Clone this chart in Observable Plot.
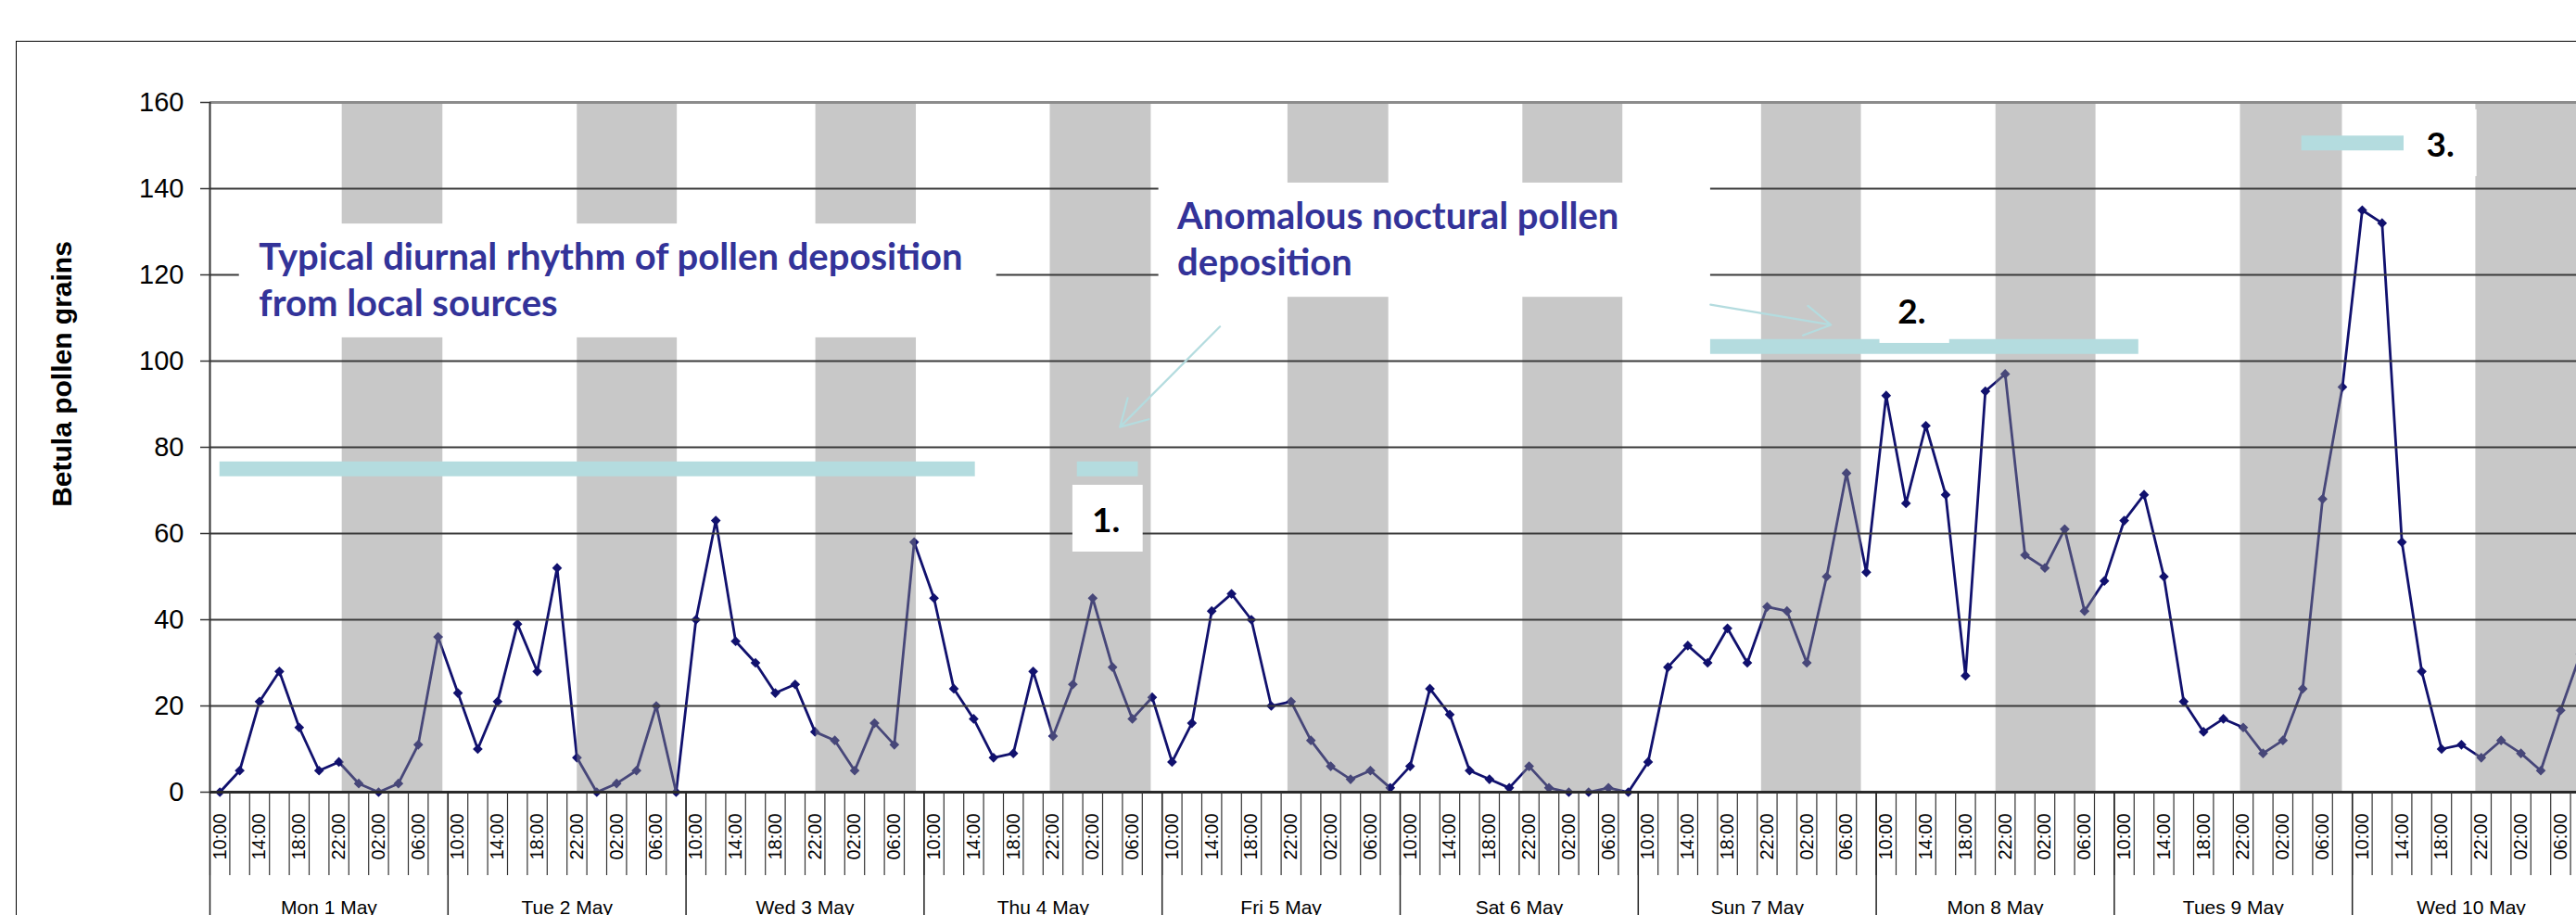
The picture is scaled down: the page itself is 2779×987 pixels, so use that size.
<!DOCTYPE html>
<html><head><meta charset="utf-8">
<script src="https://cdn.jsdelivr.net/npm/d3@7"></script>
<script src="https://cdn.jsdelivr.net/npm/@observablehq/plot@0.6"></script>
<style>
html,body{margin:0;padding:0;background:#fff;overflow:hidden;width:2779px;height:987px;}
#chart{position:absolute;left:0;top:0;width:2814px;}
#chart svg{max-width:none !important;}
#frame{position:absolute;left:17px;top:44px;width:3000px;height:1200px;border-left:1.5px solid #000;border-top:1.5px solid #000;pointer-events:none;}
</style></head><body>
<div id="chart"></div><div id="frame"></div>
<script>
// ---------- data ----------
const dayLabels = ["Mon 1 May","Tue 2 May","Wed 3 May","Thu 4 May","Fri 5 May","Sat 6 May","Sun 7 May","Mon 8 May","Tues 9 May","Wed 10 May"];
const slotTimes = ["10:00","12:00","14:00","16:00","18:00","20:00","22:00","00:00","02:00","04:00","06:00","08:00"];
const labelledTimes = ["10:00","14:00","18:00","22:00","02:00","06:00"];
const pollen = [
  0,5,21,28,15,5,7,2,0,2,11,36,
  23,10,21,39,28,52,8,0,2,5,20,0,
  40,63,35,30,23,25,14,12,5,16,11,58,
  45,24,17,8,9,28,13,25,45,29,17,22,
  7,16,42,46,40,20,21,12,6,3,5,1,
  6,24,18,5,3,1,6,1,0,0,1,0,
  7,29,34,30,38,30,43,42,30,50,74,51,
  92,67,85,69,27,93,97,55,52,61,42,49,
  63,69,50,21,14,17,15,9,12,24,68,94,
  135,132,58,28,10,11,8,12,9,5,19,32
];
const yTicks = [0,20,40,60,80,100,120,140,160];
// night shading (start / end)
const nightStart = ["2006-05-01T22:20","2006-05-02T22:02","2006-05-03T22:05","2006-05-04T21:43","2006-05-05T21:41","2006-05-06T21:22","2006-05-07T21:26","2006-05-08T21:04","2006-05-09T21:43","2006-05-10T21:27"];
const nightEnd   = ["2006-05-02T08:29","2006-05-03T08:07","2006-05-04T08:13","2006-05-05T07:54","2006-05-06T07:51","2006-05-07T07:27","2006-05-08T07:30","2006-05-09T07:09","2006-05-10T08:00","2006-05-11T07:36"];
// highlighted periods (teal bars)
const periodStart = ["2006-05-01T10:00","2006-05-05T00:27","2006-05-07T16:18","2006-05-10T03:54"];
const periodEnd   = ["2006-05-04T14:10","2006-05-05T06:36","2006-05-09T11:28","2006-05-10T14:13"];
const periodLevel = [75,75,103.4,150.6];
// annotation boxes
const boxStart = ["2006-05-01T11:58","2006-05-05T08:40","2006-05-05T00:00","2006-05-08T09:22","2006-05-10T14:50"];
const boxEnd   = ["2006-05-04T16:19","2006-05-07T16:18","2006-05-05T07:05","2006-05-08T16:24","2006-05-10T21:34"];
const boxLow   = [105.4,114.8,55.7,104.1,142.8];
const boxHigh  = [131.8,141.3,71.2,118,158.3];
// annotation texts
const noteText  = ["Typical diurnal rhythm of pollen deposition\nfrom local sources","Anomalous noctural pollen\ndeposition"];
const noteTime  = ["2006-05-01T13:56","2006-05-05T10:32"];
const noteLevel = [110.4,119.85];
const markText  = ["1.","2.","3."];
const markTime  = ["2006-05-05T01:56","2006-05-08T11:10","2006-05-10T16:28"];
const markLevel = [60.4,108.8,147.5];
// arrows
const arrowFrom = ["2006-05-05T14:50","2006-05-07T16:17"];
const arrowFromLevel = [108.0,113.1];
const arrowTo = ["2006-05-05T04:45","2006-05-08T04:26"];
const arrowToLevel = [84.7,108.4];

// ---------- build ----------
const T = s => new Date(s + ":00Z");
const H = 3600e3;
const t0 = Date.UTC(2006,4,1,10);
const series = pollen.map((v,i) => ({t: new Date(t0 + i*2*H), v, slot: slotTimes[i % 12]}));
const nights = nightStart.map((s,i) => ({start: T(s), end: T(nightEnd[i])}));
const periods = periodStart.map((s,i) => ({start: T(s), end: T(periodEnd[i]), level: periodLevel[i]}));
const boxes = boxStart.map((s,i) => ({start: T(s), end: T(boxEnd[i]), low: boxLow[i], high: boxHigh[i]}));
const notes = noteText.map((s,i) => ({text: s, t: T(noteTime[i]), v: noteLevel[i]}));
const marksN = markText.map((s,i) => ({text: s, t: T(markTime[i]), v: markLevel[i]}));
const arrows = arrowFrom.map((s,i) => ({t1: T(s), v1: arrowFromLevel[i], t2: T(arrowTo[i]), v2: arrowToLevel[i]}));

const xStart = new Date(Date.UTC(2006,4,1,9));
const xEnd = new Date(Date.UTC(2006,4,11,9));
const catBounds = d3.range(0, series.length + 1).map(k => new Date(xStart.getTime() + k*2*H));
const dayBounds = d3.range(0, dayLabels.length + 1).map(d => new Date(xStart.getTime() + d*24*H));
const dayMids = dayLabels.map((_, d) => new Date(xStart.getTime() + (d*24 + 12)*H));
const timeLabels = series.filter(d => labelledTimes.includes(d.slot));

const navy = "#11116e", teal = "#b4dcdf", annBlue = "#333399";
const annFont = "Lato, 'Open Sans', sans-serif";

const svg = Plot.plot({
  width: 2814, height: 987,
  marginLeft: 226, marginRight: 20, marginTop: 110, marginBottom: 133,
  x: {type: "utc", domain: [xStart, xEnd]},
  y: {domain: [0, 160]},
  style: {background: "#fff", color: "#000", fontFamily: "'Liberation Sans', Arial, sans-serif", overflow: "visible", maxWidth: "none"},
  marks: [
    Plot.line(series, {x: "t", y: "v", stroke: navy, strokeWidth: 2.8}),
    Plot.dot(series, {x: "t", y: "v", symbol: "diamond2", r: 4.8, fill: navy, stroke: null}),
    Plot.rect(nights, {x1: "start", x2: "end", y1: 0, y2: 160, fill: "#888", fillOpacity: 0.46}),
    Plot.ruleY(yTicks.filter(v => v > 0 && v < 160), {stroke: "#3a3a3a", strokeWidth: 2}),
    Plot.ruleY([0], {stroke: "#2a2a2a", strokeWidth: 3}),
    Plot.ruleY([160], {stroke: "#8c8c8c", strokeWidth: 3}),
    Plot.ruleX([xStart], {y1: 0, y2: 160, stroke: "#333", strokeWidth: 2}),
    Plot.ruleY(periods, {x1: "start", x2: "end", y: "level", stroke: teal, strokeWidth: 16}),
    Plot.rect(boxes, {x1: "start", x2: "end", y1: "low", y2: "high", fill: "#fff"}),
    Plot.text(notes, {x: "t", y: "v", text: "text", textAnchor: "start", lineAnchor: "bottom", lineHeight: 1.25,
      fontSize: 40, fontWeight: "bold", fontFamily: annFont, fill: annBlue}),
    Plot.text(marksN, {x: "t", y: "v", text: "text", textAnchor: "start", lineAnchor: "bottom",
      fontSize: 37, fontWeight: "bold", fontFamily: annFont, fill: "#000"}),
    Plot.arrow(arrows, {x1: "t1", y1: "v1", x2: "t2", y2: "v2", stroke: teal, strokeWidth: 2.2, headLength: 22}),
    Plot.axisY({ticks: yTicks, tickSize: 10, tickPadding: 18, fontSize: 29, label: null, stroke: "#333", strokeWidth: 1.5}),
    Plot.axisX({ticks: catBounds, tickSize: 90, tickFormat: () => "", label: null, stroke: "#333", strokeWidth: 1.2}),
    Plot.axisX({ticks: dayBounds, tickSize: 140, tickFormat: () => "", label: null, stroke: "#222", strokeWidth: 1.5}),
    Plot.text(timeLabels, {x: "t", text: "slot", frameAnchor: "bottom", rotate: -90, dy: 48,
      textAnchor: "middle", lineAnchor: "middle", fontSize: 20, fill: "#000"}),
    Plot.axisX({ticks: dayMids, tickSize: 0, tickPadding: 117, tickFormat: d => dayLabels[d.getUTCDate() - 1], fontSize: 21, label: null}),
    Plot.text(["Betula pollen grains"], {frameAnchor: "left", text: d => d, rotate: -90, dx: -159, dy: -79,
      fontSize: 30, fontWeight: "bold", textAnchor: "middle", lineAnchor: "middle", fill: "#000"})
  ]
});
svg.style.maxWidth = "none";
document.getElementById("chart").appendChild(svg);
</script></body></html>
